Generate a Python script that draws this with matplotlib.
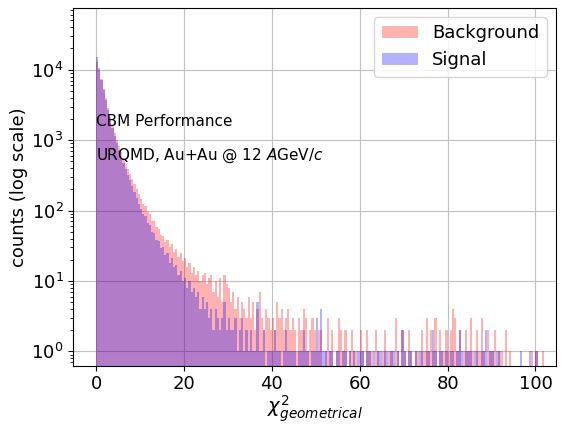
import numpy as np
import matplotlib
matplotlib.use('Agg')
import matplotlib.pyplot as plt

# histogram counts, bins of width 0.5 starting at chi2 = 0
BIN_WIDTH = 0.5

signal_head = [15000, 10500, 7200, 5200, 3700, 2700, 2000, 1500, 1150, 900,
               720, 580, 470, 390, 320, 270, 220, 185, 150, 125,
               105, 88, 84, 66, 62, 50, 48, 38, 37, 29,
               30, 23, 25, 18, 21, 16, 17, 12, 14, 10,
               11, 8, 10, 7, 8, 6, 7, 4, 6, 4,
               5, 3, 4, 2, 4, 3, 2, 3, 5, 2]
signal_tail = [3, 2, 2, 3, 1, 2, 3, 1, 2, 1,
               2, 1, 1, 5, 1, 1, 2, 0, 1, 1,
               1, 2, 1, 1, 0, 1, 2, 1, 1, 1,
               1, 0, 1, 1, 2, 1, 1, 0, 1, 1,
               3, 1, 4, 1, 1, 0, 1, 1, 0, 1,
               1, 0, 1, 1, 0, 1, 0, 1, 0, 1,
               1, 1, 0, 1, 1, 0, 1, 0, 1, 1,
               0, 1, 1, 0, 1, 1, 0, 1, 0, 2,
               1, 0, 1, 1, 0, 1, 0, 1, 1, 0,
               1, 1, 0, 2, 1, 0, 1, 1, 0, 1,
               0, 1, 1, 0, 1, 2, 1, 0, 1, 1,
               1, 0, 1, 1, 0, 1, 1, 2, 0, 1,
               1, 0, 1, 1, 0, 0, 0, 0, 0, 0,
               0, 0, 0, 1, 0, 0, 0, 1, 0, 0,
               1, 0, 0, 0]

background_head = [13000, 10000, 7300, 5400, 3900, 2900, 2150, 1650, 1280, 1000,
                   820, 670, 560, 460, 390, 335, 280, 240, 205, 170,
                   148, 122, 115, 95, 88, 72, 70, 58, 55, 45,
                   44, 36, 38, 30, 33, 26, 28, 22, 25, 19,
                   21, 16, 18, 13, 16, 12, 14, 10, 12, 13,
                   9, 11, 12, 7, 10, 6, 11, 5, 12, 9]
background_tail = [8, 5, 7, 4, 6, 3, 5, 4, 3, 6,
                   3, 5, 2, 4, 7, 3, 2, 4, 3, 2,
                   3, 2, 5, 3, 4, 2, 3, 4, 2, 3,
                   2, 1, 3, 2, 4, 3, 1, 2, 3, 2,
                   1, 2, 2, 0, 1, 3, 1, 2, 0, 1,
                   3, 2, 1, 2, 0, 1, 2, 1, 1, 0,
                   2, 1, 0, 2, 1, 1, 0, 2, 1, 0,
                   1, 2, 0, 1, 1, 0, 3, 1, 0, 2,
                   1, 0, 2, 1, 0, 1, 1, 0, 2, 1,
                   3, 1, 2, 1, 3, 0, 2, 1, 1, 2,
                   1, 2, 4, 3, 1, 2, 0, 1, 2, 1,
                   3, 1, 0, 2, 1, 3, 1, 0, 2, 1,
                   1, 2, 0, 1, 1, 0, 2, 0, 1, 0,
                   0, 0, 0, 0, 0, 0, 0, 0, 1, 0,
                   1, 0, 0, 1]

signal = np.array(signal_head + signal_tail)
background = np.array(background_head + background_tail)
edges = np.arange(len(signal) + 1) * BIN_WIDTH
centers = edges[:-1] + BIN_WIDTH / 2

fig = plt.figure(figsize=(5.63, 4.25), dpi=100)
ax = fig.add_axes([0.13, 0.14, 0.857, 0.841])

ax.hist(centers, bins=edges, weights=background, color='r', alpha=0.3, label='Background', log=True)
ax.hist(centers, bins=edges, weights=signal, color='b', alpha=0.3, label='Signal', log=True)

ax.set_xlim(-5.2, 104.6)
ax.set_ylim(0.63, 7.5e4)
ax.grid(True, color='#c0c0c0', linewidth=0.8)
ax.set_axisbelow(True)
ax.tick_params(labelsize=13)

ax.text(0, 1860, 'CBM Performance', fontsize=11, va='center', ha='left')
ax.text(0, 595, 'URQMD, Au+Au @ 12 $A$GeV/$c$', fontsize=11, va='center', ha='left')

ax.set_xlabel(r'$\chi^2_{geometrical}$', fontsize=14, labelpad=0)
ax.set_ylabel('counts (log scale)', fontsize=13, labelpad=2)
ax.legend(loc='upper right', fontsize=13)

fig.savefig('out.png', dpi=100)
